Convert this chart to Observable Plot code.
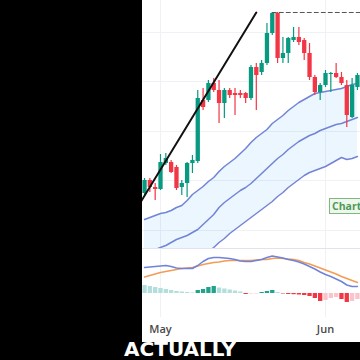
<!DOCTYPE html>
<html><head><meta charset="utf-8">
<script src="https://cdn.jsdelivr.net/npm/d3@7"></script>
<script src="https://cdn.jsdelivr.net/npm/@observablehq/plot@0.6"></script>
<style>
html,body{margin:0;padding:0;background:#000;width:360px;height:360px;overflow:hidden;}
#panel{position:absolute;left:142px;top:0;width:218px;height:342px;background:#fff;overflow:hidden;}
#main{position:absolute;left:0;top:0;}
#sep{position:absolute;left:0;top:248px;width:218px;height:1px;background:#e0e3eb;}
#macd{position:absolute;left:0;top:249px;}
#tag{position:absolute;left:187px;top:198px;height:14px;padding:0 2px;border:1px solid #7fb77f;background:#eef7ee;color:#4e9a56;font:bold 10.5px "Open Sans",sans-serif;line-height:14px;white-space:nowrap;}
#caption{position:absolute;left:0;top:339px;width:360px;text-align:center;color:#fff;font:bold 20px "DejaVu Sans",sans-serif;line-height:20px;}
</style></head>
<body>
<div id="panel"><div id="main"></div><div id="sep"></div><div id="macd"></div><div id="tag">Chart</div></div>
<div id="caption">ACTUALLY</div>
<script>
// ---- data (Apr 28 .. Jun 7, daily) ----
const dates = d3.utcDay.range(new Date("2024-04-28"), new Date("2024-06-08"));
const openV  = [57,70,63,61,87,88,83,63,67,87,89,150,150,167,160,147,160,157,157,157,152,183,178,187,217,237,192,197,210,213,210,197,173,158,165,176,177,173,165,133,163];
const highV  = [72,72,67,96,97,90,85,70,88,95,160,162,170,172,170,162,162,162,160,158,185,187,190,227,238,238,213,213,223,223,212,207,175,167,180,178,187,178,170,172,177];
const lowV   = [55,58,50,60,85,77,60,55,53,77,87,140,148,158,127,132,152,135,152,147,150,140,175,185,215,187,187,187,208,205,190,170,155,150,163,158,172,165,123,132,160];
const closeV = [70,63,61,88,92,78,62,67,87,90,152,143,167,160,147,160,155,155,155,152,183,175,187,217,237,192,197,212,213,208,197,173,158,165,177,177,173,167,135,165,175];
const upperBand  = [31,33,35,37,38,40,43,45,50,56,60,64,69,73,79,84,88,92,97,102,108,113,117,121,127,131,135,140,144,148,151,154,157,158,159,160,161,162,164,166,167];
const middleBand = [-4,-2,1,3,5,8,11,13,15,18,21,26,31,36,43,48,52,56,60,63,67,72,77,82,87,92,96,101,105,109,112,115,117,120,122,124,126,127,129,131,133];
const lowerBand  = [-26,-26,-26,-25,-24,-23,-21,-19,-16,-13,-9,-5,-1,3,8,12,17,21,25,29,33,37,41,45,49,54,58,63,67,71,75,78,80,82,84,87,90,93,91,92,94];
const macdLine   = [26,26.5,27,27.5,28,27,25.5,25,25,25,28,32,35,36,36,35.5,35,34,32.5,32,32,33,34,36,37.5,36.5,35.5,34,33,31.5,29.5,27,24.5,21.5,19,17,14.5,12,8.5,7,7];
const signalLine = [16.5,18,19.5,21,22,23,24,25,25.5,26,27.5,29,30,31,31.5,32.5,33,33,33,33,33,33.5,34,34,35,35.5,35,34.5,34,33,31,29.5,27.5,25.5,23.5,21.5,19.5,17,15,13,11];
const histogram  = [8,7,6,5,4,3,2,1.5,1,0.5,3,4,6,7,5.5,4.5,3.5,2.5,1.5,-1,-0.5,-0.5,1,2,3,1,-0.5,-1,-1.2,-1.5,-2,-3,-5,-8,-7,-5,-4,-6,-9,-8,-6];
const trendDates = [new Date("2024-04-27"), new Date("2024-05-19")];
const trendValues = [46, 238];
const resistDates = [new Date("2024-05-22"), new Date("2024-06-08")];
const resistValue = 238;
const gridValues = [20, 70, 119, 169, 218];
const monthTicks = [new Date("2024-05-01"), new Date("2024-06-01")];

// ---- tables ----
const candles = dates.map((date, i) => ({date, open: openV[i], high: highV[i], low: lowV[i], close: closeV[i],
  upper: upperBand[i], middle: middleBand[i], lower: lowerBand[i],
  macd: macdLine[i], signal: signalLine[i], hist: histogram[i], prev: i ? histogram[i-1] : Infinity}));
const trend = trendDates.map((date, i) => ({date, value: trendValues[i]}));
const resist = resistDates.map(date => ({date, value: resistValue}));

const green = "#089981", red = "#f23645", band = "#7284d6";
const xScale = {type: "utc", domain: monthTicks, range: [18, 183], axis: null};
const candleColor = d => d.close >= d.open ? green : red;
const histColor = d => d.hist >= 0 ? (d.hist > d.prev ? "#1fa38a" : "#b2dfdb") : (d.hist < d.prev ? "#f23645" : "#fbc4cb");

const main = Plot.plot({
  width: 218, height: 248, margin: 0,
  style: {background: "transparent", overflow: "hidden"},
  x: xScale,
  y: {domain: [0, 250], range: [250, 0], axis: null},
  marks: [
    Plot.ruleY(gridValues, {stroke: "#eef1f6"}),
    Plot.ruleX(monthTicks, {stroke: "#eef1f6"}),
    Plot.areaY(candles, {x: "date", y1: "lower", y2: "upper", fill: "#2196f3", fillOpacity: 0.09, clip: true}),
    Plot.line(candles, {x: "date", y: "upper", stroke: band, strokeWidth: 1.5, clip: true}),
    Plot.line(candles, {x: "date", y: "middle", stroke: band, strokeWidth: 1.5, clip: true}),
    Plot.line(candles, {x: "date", y: "lower", stroke: band, strokeWidth: 1.5, clip: true}),
    Plot.ruleX(candles, {x: "date", y1: "low", y2: "high", stroke: candleColor, strokeWidth: 1.2}),
    Plot.ruleX(candles, {x: "date", y1: "open", y2: "close", stroke: candleColor, strokeWidth: 4.3}),
    Plot.line(trend, {x: "date", y: "value", stroke: "#111", strokeWidth: 2, clip: true}),
    Plot.line(resist, {x: "date", y: "value", stroke: "#555", strokeWidth: 1, strokeDasharray: "4,3", clip: true})
  ]
});
document.getElementById("main").append(main);

const macd = Plot.plot({
  width: 218, height: 93, marginTop: 0, marginLeft: 0, marginRight: 0, marginBottom: 25,
  style: {background: "transparent", overflow: "hidden", fontSize: "11px", fontWeight: 600, fontFamily: "'Open Sans', sans-serif"},
  x: xScale,
  y: {domain: [-48, 44], range: [92, 0], axis: null},
  marks: [
    Plot.ruleX(monthTicks, {stroke: "#eef1f6"}),
    Plot.ruleX(candles, {x: "date", y1: 0, y2: "hist", stroke: histColor, strokeWidth: 4.3}),
    Plot.line(candles, {x: "date", y: "signal", stroke: "#f39c53", strokeWidth: 1.5}),
    Plot.line(candles, {x: "date", y: "macd", stroke: "#6f82dc", strokeWidth: 1.5}),
    Plot.axisX(monthTicks, {anchor: "bottom", tickSize: 0, tickPadding: 8, tickFormat: d3.utcFormat("%b"), fill: "#4a4a4a"})
  ]
});
document.getElementById("macd").append(macd);
</script>
</body></html>
